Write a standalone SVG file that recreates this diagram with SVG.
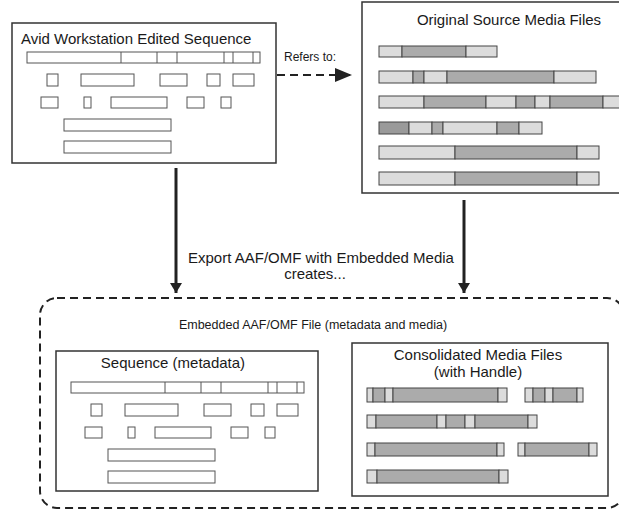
<svg xmlns="http://www.w3.org/2000/svg" xmlns:xlink="http://www.w3.org/1999/xlink" width="619" height="511" viewBox="0 0 619 511">
<style>
.box{fill:#fff;stroke:#333;stroke-width:1.5}
.clip{fill:#fff;stroke:#555;stroke-width:1}
.div{stroke:#555;stroke-width:1}
.lt{fill:#dcdcdc;stroke:#444;stroke-width:1}
.dk{fill:#ababab;stroke:#444;stroke-width:1}
.dk2{fill:#9a9a9a;stroke:#444;stroke-width:1}
.t{font-family:"Liberation Sans",Arial,sans-serif;font-size:15px;fill:#1a1a1a}
.ts{font-family:"Liberation Sans",Arial,sans-serif;font-size:12px;fill:#1a1a1a}
.conn{stroke:#222;stroke-width:3;fill:none}
.dash{stroke:#222;stroke-width:2;fill:none;stroke-dasharray:8 5}
</style>
<defs>
<marker id="ah" viewBox="0 0 10 12" refX="10" refY="6" markerWidth="10" markerHeight="12" markerUnits="userSpaceOnUse" orient="auto"><path d="M0,0 L10,6 L0,12 Z" fill="#222"/></marker>
<marker id="ah2" viewBox="0 0 17 14" refX="17" refY="7" markerWidth="17" markerHeight="14" markerUnits="userSpaceOnUse" orient="auto"><path d="M0,0 L17,7 L0,14 Z" fill="#222"/></marker>
<g id="seq">
<rect class="clip" x="27" y="52" width="233" height="11"/>
<path class="div" d="M121,52V63M157,52V63M177,52V63M224,52V63M233,52V63M253,52V63"/>
<rect class="clip" x="47" y="74" width="11" height="12"/>
<rect class="clip" x="81" y="74" width="53" height="12"/>
<rect class="clip" x="160" y="74" width="27" height="12"/>
<rect class="clip" x="207" y="74" width="13" height="12"/>
<rect class="clip" x="233" y="74" width="21" height="12"/>
<rect class="clip" x="41" y="97" width="17" height="11"/>
<rect class="clip" x="84" y="97" width="7" height="11"/>
<rect class="clip" x="111" y="97" width="56" height="11"/>
<rect class="clip" x="187" y="97" width="17" height="11"/>
<rect class="clip" x="221" y="97" width="10" height="11"/>
<rect class="clip" x="64" y="119" width="107" height="12"/>
<rect class="clip" x="64" y="141" width="107" height="12"/>
</g>
</defs>

<g id="edited-sequence">
<rect class="box" x="12" y="23" width="264" height="140"/>
<text class="t" x="21" y="44">Avid Workstation Edited Sequence</text>
<use xlink:href="#seq"/>
</g>

<g id="source-media">
<rect class="box" x="362" y="2" width="262" height="191"/>
<text class="t" x="509" y="25" text-anchor="middle">Original Source Media Files</text>
<rect class="lt" x="379" y="46" width="23" height="11"/><rect class="dk" x="402" y="46" width="64" height="11"/><rect class="lt" x="466" y="46" width="31" height="11"/>
<rect class="lt" x="379" y="71" width="34" height="12"/><rect class="dk" x="413" y="71" width="11" height="12"/><rect class="lt" x="424" y="71" width="23" height="12"/><rect class="dk" x="447" y="71" width="107" height="12"/><rect class="lt" x="554" y="71" width="42" height="12"/>
<rect class="lt" x="379" y="96" width="45" height="12"/><rect class="dk" x="424" y="96" width="62" height="12"/><rect class="lt" x="486" y="96" width="30" height="12"/><rect class="dk" x="516" y="96" width="19" height="12"/><rect class="lt" x="535" y="96" width="15" height="12"/><rect class="dk" x="550" y="96" width="53" height="12"/><rect class="lt" x="603" y="96" width="20" height="12"/>
<rect class="dk2" x="379" y="122" width="30" height="12"/><rect class="lt" x="409" y="122" width="23" height="12"/><rect class="dk" x="432" y="122" width="11" height="12"/><rect class="lt" x="443" y="122" width="54" height="12"/><rect class="dk" x="497" y="122" width="22" height="12"/><rect class="lt" x="519" y="122" width="23" height="12"/>
<rect class="lt" x="379" y="146" width="76" height="13"/><rect class="dk" x="455" y="146" width="122" height="13"/><rect class="lt" x="577" y="146" width="22" height="13"/>
<rect class="lt" x="379" y="172" width="76" height="13"/><rect class="dk" x="455" y="172" width="122" height="13"/><rect class="lt" x="577" y="172" width="22" height="13"/>
</g>

<g id="embedded-file">
<rect class="dash" x="40" y="298" width="584" height="210" rx="17"/>
<text class="t" x="313" y="329" text-anchor="middle" style="font-size:12.5px">Embedded AAF/OMF File (metadata and media)</text>
</g>

<g id="sequence-metadata">
<rect class="box" x="56" y="351" width="262" height="140"/>
<text class="t" x="173" y="368" text-anchor="middle">Sequence (metadata)</text>
<use xlink:href="#seq" transform="translate(44,330)"/>
</g>

<g id="consolidated-media">
<rect class="box" x="352" y="343" width="256" height="153"/>
<text class="t" x="478" y="360" text-anchor="middle">Consolidated Media Files</text>
<text class="t" x="478" y="377" text-anchor="middle">(with Handle)</text>
<rect class="lt" x="367" y="388" width="6" height="14"/><rect class="dk" x="373" y="388" width="12" height="14"/><rect class="lt" x="385" y="388" width="8" height="14"/><rect class="dk" x="393" y="388" width="105" height="14"/><rect class="lt" x="498" y="388" width="9" height="14"/>
<rect class="lt" x="525" y="388" width="8" height="14"/><rect class="dk" x="533" y="388" width="12" height="14"/><rect class="lt" x="545" y="388" width="8" height="14"/><rect class="dk" x="553" y="388" width="24" height="14"/><rect class="lt" x="577" y="388" width="6" height="14"/>
<rect class="lt" x="367" y="415" width="9" height="13"/><rect class="dk" x="376" y="415" width="61" height="13"/><rect class="lt" x="437" y="415" width="9" height="13"/><rect class="dk" x="446" y="415" width="19" height="13"/><rect class="lt" x="465" y="415" width="10" height="13"/><rect class="dk" x="475" y="415" width="53" height="13"/><rect class="lt" x="528" y="415" width="9" height="13"/>
<rect class="lt" x="367" y="443" width="8" height="13"/><rect class="dk" x="375" y="443" width="122" height="13"/><rect class="lt" x="497" y="443" width="7" height="13"/>
<rect class="lt" x="518" y="443" width="7" height="13"/><rect class="dk" x="525" y="443" width="64" height="13"/><rect class="lt" x="589" y="443" width="8" height="13"/>
<rect class="lt" x="367" y="470" width="10" height="13"/><rect class="dk" x="377" y="470" width="122" height="13"/><rect class="lt" x="499" y="470" width="9" height="13"/>
</g>

<g id="connectors">
<line class="dash" x1="277" y1="75" x2="352" y2="75" marker-end="url(#ah2)"/>
<text class="ts" x="284" y="61">Refers to:</text>
<line class="conn" x1="176" y1="168" x2="176" y2="293" marker-end="url(#ah)"/>
<line class="conn" x1="464" y1="200" x2="464" y2="293" marker-end="url(#ah)"/>
<text class="t" x="321" y="263" text-anchor="middle">Export AAF/OMF with Embedded Media</text>
<text class="t" x="315" y="279" text-anchor="middle">creates...</text>
</g>
</svg>
